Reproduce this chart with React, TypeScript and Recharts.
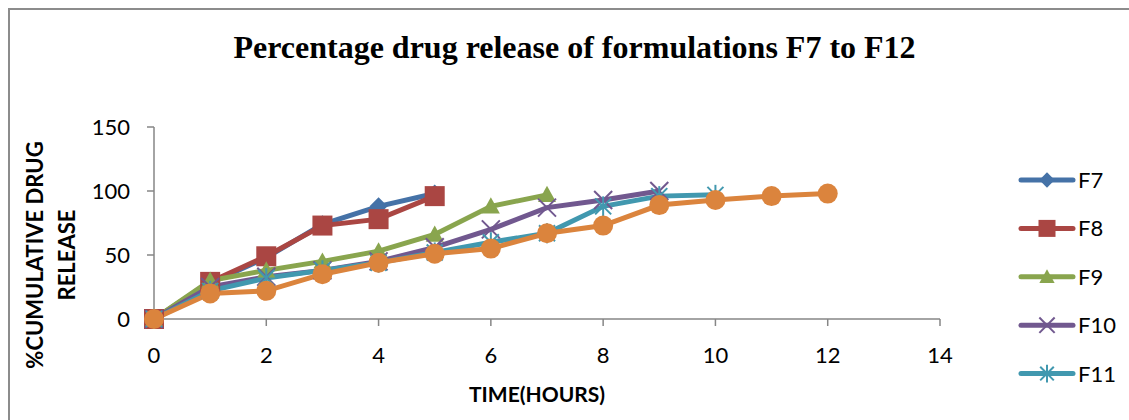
import React from "react";
import { LineChart, Line, XAxis, YAxis } from "recharts";

// Cumulative release (%) per formulation, sampled hourly from t = 0
const hours = [0, 1, 2, 3, 4, 5, 6, 7, 8, 9, 10, 11, 12];
const f7 = [0, 28, 48, 74, 88, 98];
const f8 = [0, 29, 49, 73, 78, 96];
const f9 = [0, 30, 38, 45, 53, 66, 88, 97];
const f10 = [0, 25, 33, 38, 45, 56, 70, 87, 93, 100];
const f11 = [0, 22, 32, 38, 44, 52, 60, 67, 88, 96, 97];
const f12 = [0, 20, 22, 35, 44, 51, 55, 67, 73, 89, 93, 96, 98];

const xTicks = [0, 2, 4, 6, 8, 10, 12, 14];
const yTicks = [0, 50, 100, 150];

const seriesNames = ["F7", "F8", "F9", "F10", "F11", "F12"];
const seriesValues = [f7, f8, f9, f10, f11, f12];
const seriesColors = ["#4572A7", "#AA4643", "#89A54E", "#71588F", "#4198AF", "#DB843D"];
const seriesShapes = ["diamond", "square", "triangle", "cross", "star", "circle"];
// the legend box only has room for the first five entries
const legendNames = ["F7", "F8", "F9", "F10", "F11"];

const data = hours.map((h, i) => {
  const row: Record<string, number | null> = { hour: h };
  seriesNames.forEach((name, s) => {
    const v = seriesValues[s][i];
    row[name] = v === undefined ? null : v;
  });
  return row;
});

const FONT = "Lato, 'Open Sans', sans-serif";
const AXIS = "#868686";

function Marker({ shape, color, cx, cy, s = 1 }: { shape: string; color: string; cx: number; cy: number; s?: number }) {
  if (cx == null || cy == null || isNaN(cx) || isNaN(cy)) return null;
  switch (shape) {
    case "diamond": {
      const r = 9 * s;
      return <polygon points={`${cx},${cy - r} ${cx + r},${cy} ${cx},${cy + r} ${cx - r},${cy}`} fill={color} />;
    }
    case "square": {
      const r = 10 * s;
      return <rect x={cx - r} y={cy - r} width={2 * r} height={2 * r} fill={color} />;
    }
    case "triangle": {
      const r = 9 * s;
      return <polygon points={`${cx},${cy - r} ${cx + r},${cy + r * 0.8} ${cx - r},${cy + r * 0.8}`} fill={color} />;
    }
    case "cross": {
      const r = 9 * s;
      return (
        <g stroke={color} strokeWidth={2}>
          <line x1={cx - r} y1={cy - r} x2={cx + r} y2={cy + r} />
          <line x1={cx - r} y1={cy + r} x2={cx + r} y2={cy - r} />
        </g>
      );
    }
    case "star": {
      const r = 8 * s;
      return (
        <g stroke={color} strokeWidth={2}>
          <line x1={cx - r} y1={cy - r} x2={cx + r} y2={cy + r} />
          <line x1={cx - r} y1={cy + r} x2={cx + r} y2={cy - r} />
          <line x1={cx} y1={cy - r - 2} x2={cx} y2={cy + r + 2} />
        </g>
      );
    }
    default:
      return <circle cx={cx} cy={cy} r={10 * s} fill={color} />;
  }
}

function YTitle() {
  return (
    <g fontFamily={FONT} fontWeight={700} fontSize={22} fill="#000" textAnchor="middle">
      <text transform="translate(33,245) rotate(-90)">%CUMULATIVE DRUG</text>
      <text transform="translate(65,245) rotate(-90)">RELEASE</text>
    </g>
  );
}

export default function App() {
  return (
    <div
      style={{
        position: "fixed",
        left: 8,
        top: 8,
        width: 1121,
        height: 412,
        boxSizing: "border-box",
        borderLeft: "2px solid #8c8c8c",
        borderTop: "2px solid #8c8c8c",
        background: "#fff",
        overflow: "hidden",
      }}
    >
      <div style={{ position: "absolute", left: 0, top: 0 }}>
        <LineChart width={1111} height={402} data={data} margin={{ top: 117, right: 181, bottom: 0, left: 0 }}>
          <XAxis
            dataKey="hour"
            type="number"
            domain={[0, 14]}
            ticks={xTicks}
            interval={0}
            height={93}
            stroke={AXIS}
            strokeWidth={1.5}
            tickSize={7}
            tickMargin={21}
            tick={{ fill: "#000", fontSize: 22, fontFamily: FONT }}
          />
          <YAxis
            type="number"
            domain={[0, 150]}
            ticks={yTicks}
            interval={0}
            width={144}
            stroke={AXIS}
            strokeWidth={1.5}
            tickSize={7}
            tickMargin={17}
            tick={{ fill: "#000", fontSize: 22, fontFamily: FONT }}
          />
          {seriesNames.map((name, s) => (
            <Line
              key={name}
              dataKey={name}
              type="linear"
              stroke={seriesColors[s]}
              strokeWidth={5}
              isAnimationActive={false}
              activeDot={false}
              dot={(p: any) => (
                <Marker key={`${name}-${p.index}`} shape={seriesShapes[s]} color={seriesColors[s]} cx={p.cx} cy={p.cy} />
              )}
            />
          ))}
        </LineChart>
      </div>
      <svg width={1111} height={402} style={{ position: "absolute", left: 0, top: 0, pointerEvents: "none" }}>
        <text
          x={564.5}
          y={48.3}
          textAnchor="middle"
          fontFamily="'Liberation Serif', 'Times New Roman', serif"
          fontWeight={700}
          fontSize={32}
          fill="#000"
        >
          Percentage drug release of formulations F7 to F12
        </text>
        <YTitle />
        <text x={527} y={392} textAnchor="middle" fontFamily={FONT} fontWeight={700} fontSize={21} fill="#000">
          TIME(HOURS)
        </text>
        {legendNames.map((name, i) => {
          const s = seriesNames.indexOf(name);
          const y = 170 + i * 48.4;
          return (
            <g key={name}>
              <line x1={1011} y1={y} x2={1063} y2={y} stroke={seriesColors[s]} strokeWidth={5} strokeLinecap="round" />
              <Marker shape={seriesShapes[s]} color={seriesColors[s]} cx={1037} cy={y} s={0.85} />
              <text x={1068} y={y} dy="0.36em" fontFamily={FONT} fontSize={22} fill="#000">
                {name}
              </text>
            </g>
          );
        })}
      </svg>
    </div>
  );
}
